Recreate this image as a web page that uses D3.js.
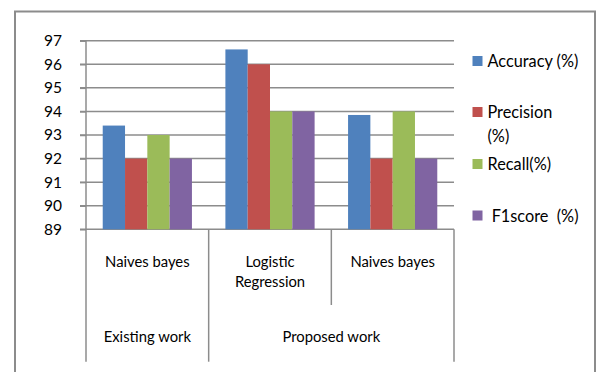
<!DOCTYPE html>
<html>
<head>
<meta charset="utf-8">
<script src="https://cdn.jsdelivr.net/npm/d3@7"></script>
<style>
  html, body { margin: 0; padding: 0; background: #fff; }
  svg { display: block; }
  text { font-family: Lato, "Liberation Sans", sans-serif; fill: #000; }
</style>
</head>
<body>
<svg id="chart" width="597" height="372"></svg>
<script>
// Method rows (each bar group) and the group headers beneath them
const methods = ["Naives bayes", "Logistic\nRegression", "Naives bayes"];
const groups = [
  { label: "Existing work", from: 0, to: 0 },
  { label: "Proposed work", from: 1, to: 2 }
];
const seriesNames = ["Accuracy (%)", "Precision (%)", "Recall(%)", "F1score  (%)"];
const legendLines = [["Accuracy (%)"], ["Precision", "(%)"], ["Recall(%)"], ["\u00a0F1score\u00a0\u00a0(%)"]];
const colors = ["#4F81BD", "#C0504D", "#9BBB59", "#8064A2"];

// One array per metric, in the order of methods
const accuracy = [93.4, 96.63, 93.85];
const precision = [92, 96, 92];
const recall = [93, 94, 94];
const f1score = [92, 94, 92];
const yTicks = [89, 90, 91, 92, 93, 94, 95, 96, 97];

const seriesValues = [accuracy, precision, recall, f1score];

const svg = d3.select("#chart");
const gridColor = "#8c8c8c";

// Outer chart frame
svg.append("path")
  .attr("d", "M15,380 V11.5 H595 V380")
  .attr("fill", "none")
  .attr("stroke", gridColor)
  .attr("stroke-width", 2);

const plot = { left: 86, right: 454, top: 40.7, bottom: 229.3 };

const y = d3.scaleLinear().domain([89, 97]).range([plot.bottom, plot.top]);
const x0 = d3.scaleBand().domain(d3.range(methods.length)).range([plot.left, plot.right]).padding(0);
const x1 = d3.scaleBand().domain(d3.range(seriesNames.length))
  .range([0, x0.bandwidth()]).paddingInner(0).paddingOuter(0.75);

// Horizontal gridlines, running into the tick marks
svg.append("g").selectAll("line")
  .data(yTicks)
  .join("line")
  .attr("x1", plot.left - 6)
  .attr("x2", plot.right)
  .attr("y1", d => y(d))
  .attr("y2", d => y(d))
  .attr("stroke", gridColor)
  .attr("stroke-width", 1.5);

// Bars
const barG = svg.append("g");
methods.forEach((m, i) => {
  seriesValues.forEach((vals, s) => {
    barG.append("rect")
      .attr("x", x0(i) + x1(s))
      .attr("width", x1.bandwidth())
      .attr("y", y(vals[i]))
      .attr("height", y(89) - y(vals[i]))
      .attr("fill", colors[s]);
  });
});

// Y axis labels
const yAxis = svg.append("g")
  .attr("transform", `translate(${plot.left},0)`)
  .call(d3.axisLeft(y).tickValues(yTicks).tickSize(6).tickPadding(18).tickFormat(d3.format("d")));
yAxis.select(".domain").remove();
yAxis.selectAll(".tick line").attr("stroke", gridColor).attr("stroke-width", 1.5);
yAxis.selectAll("text").style("font-family", "Lato, sans-serif").style("font-size", "15.5px").attr("fill", "#000");

// Vertical axis line and category separators
svg.append("line")
  .attr("x1", plot.left).attr("x2", plot.left)
  .attr("y1", plot.top).attr("y2", plot.bottom)
  .attr("stroke", gridColor).attr("stroke-width", 1.5);

const sepBottom = 361.7;
const innerSepBottom = 305;
const sepXs = [0, 1, 2, 3];
svg.append("g").selectAll("line")
  .data(sepXs)
  .join("line")
  .attr("x1", d => d < methods.length ? x0(d) : plot.right)
  .attr("x2", d => d < methods.length ? x0(d) : plot.right)
  .attr("y1", plot.bottom)
  .attr("y2", d => {
    const isGroupEdge = groups.some(g => g.from === d || g.to + 1 === d);
    return isGroupEdge ? sepBottom : innerSepBottom;
  })
  .attr("stroke", gridColor).attr("stroke-width", 1.5);

// Method labels
methods.forEach((m, i) => {
  const lines = m.split("\n");
  const t = svg.append("text")
    .attr("text-anchor", "middle")
    .style("font-size", "14.8px");
  lines.forEach((ln, k) => {
    t.append("tspan")
      .attr("x", x0(i) + x0.bandwidth() / 2)
      .attr("y", 266.5 + k * 20)
      .text(ln);
  });
});

// Group labels
groups.forEach(g => {
  const cx = (x0(g.from) + x0(g.to) + x0.bandwidth()) / 2;
  svg.append("text")
    .attr("x", cx)
    .attr("y", 342)
    .attr("text-anchor", "middle")
    .style("font-size", "14.8px")
    .text(g.label);
});

// Legend
const legendY = [61, 112, 164, 215.5];
legendLines.forEach((lines, s) => {
  svg.append("rect")
    .attr("x", 472.5)
    .attr("y", legendY[s] - 5)
    .attr("width", 10)
    .attr("height", 10)
    .attr("fill", colors[s]);
  const t = svg.append("text").style("font-size", "16.3px");
  lines.forEach((ln, k) => {
    t.append("tspan")
      .attr("x", 487.5)
      .attr("y", legendY[s] + 6 + k * 24)
      .text(ln);
  });
});
</script>
</body>
</html>
